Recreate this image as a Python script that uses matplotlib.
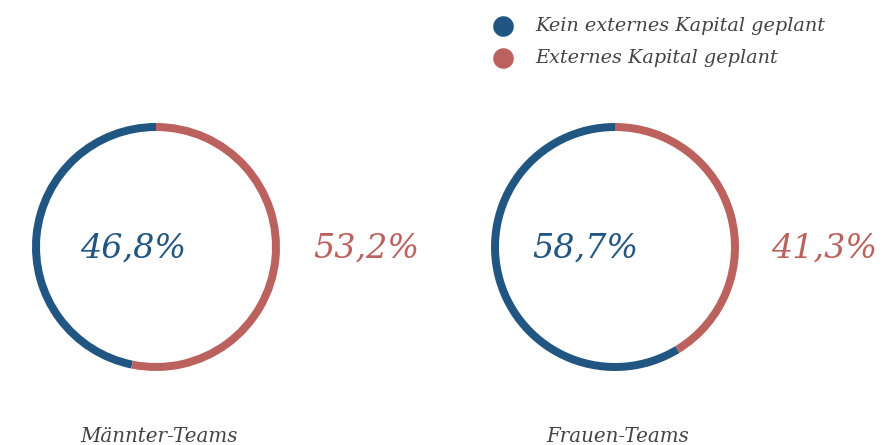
import matplotlib
matplotlib.use("Agg")
import matplotlib.pyplot as plt

# data
teams = ["Männter-Teams", "Frauen-Teams"]
kein_kapital = [46.8, 58.7]
extern_kapital = [53.2, 41.3]
series_names = ["Kein externes Kapital geplant", "Externes Kapital geplant"]

blue = "#215582"
red = "#bb625e"
grey = "#444444"

W, H = 893, 445
fig = plt.figure(figsize=(W / 100, H / 100), dpi=100)
ax = fig.add_axes([0, 0, 1, 1])

font = dict(family="DejaVu Serif", style="italic")

centers = [(156, H - 247), (615, H - 247)]
radius = 124
left_label_x = [133, 585]
right_label_x = [366, 824]

for i, team in enumerate(teams):
    cx, cy = centers[i]
    ax.pie([kein_kapital[i], extern_kapital[i]], colors=[blue, red],
           startangle=90, counterclock=True, center=(cx, cy), radius=radius,
           wedgeprops=dict(width=8, linewidth=0), frame=True)
    ax.text(left_label_x[i], cy - 2, f"{kein_kapital[i]:.1f}%".replace(".", ","),
            color=blue, fontsize=24, ha="center", va="center", **font)
    ax.text(right_label_x[i], cy - 2, f"{extern_kapital[i]:.1f}%".replace(".", ","),
            color=red, fontsize=24, ha="center", va="center", **font)
    ax.text(cx + 3, H - 437, team, color=grey, fontsize=14.3,
            ha="center", va="center", **font)

ax.set_xlim(0, W)
ax.set_ylim(0, H)
ax.set_aspect("equal")
ax.axis("off")

# legend
for j, (name, col) in enumerate(zip(series_names, [blue, red])):
    y = H - (26 + 32 * j)
    ax.scatter([503], [y], s=220, color=col, linewidths=0)
    ax.text(535, y, name, color=grey, fontsize=13.85, ha="left", va="center", **font)

fig.savefig("out.png", dpi=100)
